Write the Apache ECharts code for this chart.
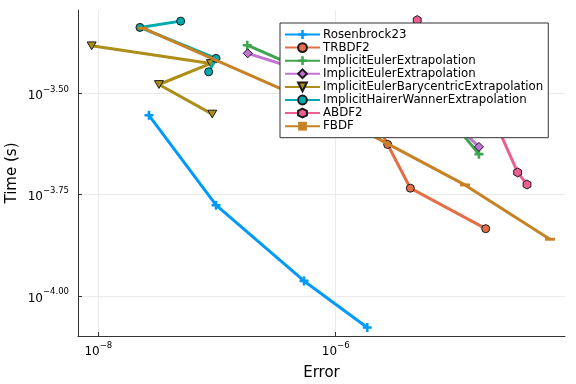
<!DOCTYPE html>
<html>
<head>
<meta charset="utf-8">
<script src="https://cdn.jsdelivr.net/npm/echarts@6/dist/echarts.min.js"></script>
<style>
html,body{margin:0;padding:0;background:#fff;}
#chart{width:576px;height:384px;}
</style>
</head>
<body>
<div id="chart"></div>
<script>
// Values are log10(Error) and log10(Time in s).
// The second ImplicitEulerExtrapolation entry carries a trailing space so the legend keeps both rows.
const seriesNames = ['Rosenbrock23','TRBDF2','ImplicitEulerExtrapolation','ImplicitEulerExtrapolation ','ImplicitEulerBarycentricExtrapolation','ImplicitHairerWannerExtrapolation','ABDF2','FBDF'];

const rosenbrock23LogErr  = [-7.573, -7.008, -6.267, -5.734];
const rosenbrock23LogTime = [-3.554, -3.776, -3.963, -4.078];

const trbdf2LogErr  = [-5.753, -5.562, -5.371, -4.736];
const trbdf2LogTime = [-3.517, -3.626, -3.734, -3.834];

const ieExtrapALogErr  = [-6.745, -5.627, -4.995, -4.793];
const ieExtrapALogTime = [-3.381, -3.524, -3.578, -3.650];

const ieExtrapBLogErr  = [-6.741, -5.627, -4.953, -4.793];
const ieExtrapBLogTime = [-3.401, -3.504, -3.586, -3.632];

const ieBaryLogErr  = [-8.056, -7.051, -7.489, -7.040];
const ieBaryLogTime = [-3.3825, -3.426, -3.478, -3.551];

const ihwLogErr  = [-7.306, -7.649, -7.008, -7.070];
const ihwLogTime = [-3.3215, -3.337, -3.4136, -3.4467];

const abdf2LogErr  = [-5.313, -4.700, -4.467, -4.388];
const abdf2LogTime = [-3.319, -3.541, -3.695, -3.725];

const fbdfLogErr  = [-7.623, -6.301, -4.911, -4.195];
const fbdfLogTime = [-3.339, -3.509, -3.726, -3.860];

const xTickValues = [-8, -6];
const yTickValues = [-4.0, -3.75, -3.5];

const colors = ['#009AFA','#E36F47','#3EA44E','#C371D2','#AC8E18','#00AAAE','#ED5E93','#C68225'];

const PLUS = 'path://M3.2,0H5.8V3.2H9V5.8H5.8V9H3.2V5.8H0V3.2H3.2Z';
const TRI_DOWN = 'path://M0,0L10,0L5,8.66Z';
const HEX = 'path://M5,0L9.33,2.5L9.33,7.5L5,10L0.67,7.5L0.67,2.5Z';

const xs = [rosenbrock23LogErr, trbdf2LogErr, ieExtrapALogErr, ieExtrapBLogErr, ieBaryLogErr, ihwLogErr, abdf2LogErr, fbdfLogErr];
const ys = [rosenbrock23LogTime, trbdf2LogTime, ieExtrapALogTime, ieExtrapBLogTime, ieBaryLogTime, ihwLogTime, abdf2LogTime, fbdfLogTime];
const symbols = [PLUS, 'circle', PLUS, 'diamond', TRI_DOWN, 'circle', HEX, 'rect'];
const symbolSizes = [9, 8, 9, 9, 9, 8, 9, [10, 3]];
const bordered = [false, true, false, true, true, true, true, false];

function fmtExp(v, digits) {
  const s = digits > 0 ? Math.abs(v).toFixed(digits) : String(Math.abs(Math.round(v)));
  return '{b|10}{s|' + (v < 0 ? '\u2212' : '') + s + '}';
}

const richStyle = {
  b: {fontSize: 12, fontFamily: 'DejaVu Sans', color: '#000', lineHeight: 17, verticalAlign: 'bottom'},
  s: {fontSize: 8.5, fontFamily: 'DejaVu Sans', color: '#000', lineHeight: 17, verticalAlign: 'top'}
};

const series = seriesNames.map((name, i) => ({
  name: name,
  type: 'line',
  data: xs[i].map((x, k) => [x, ys[i][k]]),
  symbol: symbols[i],
  symbolSize: symbolSizes[i],
  symbolKeepAspect: true,
  showAllSymbol: true,
  z: 2 + i * 0.01,
  lineStyle: {width: 3, color: colors[i]},
  itemStyle: {
    color: colors[i],
    borderColor: bordered[i] ? '#1a1a1a' : colors[i],
    borderWidth: bordered[i] ? 1 : 0
  },
  emphasis: {disabled: true},
  animation: false
}));

const chart = echarts.init(document.getElementById('chart'), null, {renderer: 'canvas'});
chart.setOption({
  backgroundColor: '#fff',
  animation: false,
  color: colors,
  grid: {left: 78, right: 11, top: 10, bottom: 48, containLabel: false, outerBoundsMode: 'none'},
  xAxis: {
    type: 'value',
    min: -8.171,
    max: -4.068,
    name: 'Error',
    nameLocation: 'middle',
    nameGap: 30,
    nameMoveOverlap: false,
    nameTextStyle: {fontSize: 15, fontFamily: 'DejaVu Sans', color: '#000'},
    axisLine: {show: true, onZero: false, lineStyle: {color: '#333', width: 1}},
    axisTick: {show: true, inside: true, length: 4, customValues: xTickValues, lineStyle: {color: '#333'}},
    axisLabel: {show: true, margin: 5, customValues: xTickValues, formatter: v => fmtExp(v, 0), rich: richStyle},
    splitLine: {show: true, lineStyle: {color: '#ebebeb', width: 1}}
  },
  yAxis: {
    type: 'value',
    min: -4.099,
    max: -3.294,
    name: 'Time (s)',
    nameLocation: 'middle',
    nameGap: 58,
    nameMoveOverlap: false,
    nameRotate: 90,
    nameTextStyle: {fontSize: 15, fontFamily: 'DejaVu Sans', color: '#000'},
    axisLine: {show: true, onZero: false, lineStyle: {color: '#333', width: 1}},
    axisTick: {show: true, inside: true, length: 4, customValues: yTickValues, lineStyle: {color: '#333'}},
    axisLabel: {show: true, margin: 9, customValues: yTickValues, formatter: v => fmtExp(v, 2), rich: richStyle},
    splitLine: {show: true, lineStyle: {color: '#ebebeb', width: 1}}
  },
  legend: {
    show: true,
    orient: 'vertical',
    left: 280,
    top: 23,
    padding: [5, 5, 5, 4],
    itemWidth: 35,
    itemHeight: 11,
    itemGap: 0.1,
    backgroundColor: '#fff',
    borderColor: '#333',
    borderWidth: 1,
    borderRadius: 0,
    z: 10,
    textStyle: {fontSize: 11.8, lineHeight: 13, fontFamily: 'DejaVu Sans', color: '#000', padding: [0, 0, 0, -2]},
    formatter: name => name.trim(),
    selectedMode: false,
    data: seriesNames
  },
  series: series
});
</script>
</body>
</html>
